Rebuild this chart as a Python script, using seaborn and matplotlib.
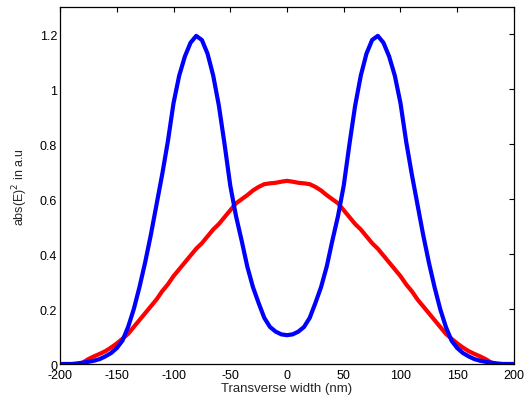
import numpy as np
import pandas as pd
import matplotlib
matplotlib.use("Agg")
import matplotlib.pyplot as plt
import seaborn as sns

x_nm = list(range(-200, 205, 5))

blue_left = [0, 0, 0, 0.002, 0.005, 0.008, 0.012, 0.018, 0.028, 0.040,
             0.058, 0.085, 0.135, 0.20, 0.28, 0.37, 0.47, 0.58, 0.69, 0.81,
             0.95, 1.05, 1.12, 1.17, 1.195, 1.18, 1.13, 1.05, 0.94, 0.80,
             0.65, 0.54, 0.45, 0.355, 0.28, 0.222, 0.168, 0.135, 0.118, 0.108]
blue_mid = [0.105]
blue_right = [0.108, 0.118, 0.135, 0.168, 0.222, 0.28, 0.355, 0.45, 0.54, 0.65,
              0.80, 0.94, 1.05, 1.13, 1.18, 1.195, 1.17, 1.12, 1.05, 0.95,
              0.81, 0.69, 0.58, 0.47, 0.37, 0.28, 0.20, 0.135, 0.085, 0.058,
              0.040, 0.028, 0.018, 0.012, 0.008, 0.005, 0.002, 0, 0, 0]
intensity_blue = blue_left + blue_mid + blue_right

red_left = [0, 0, 0, 0, 0.005, 0.018, 0.028, 0.037, 0.047, 0.060,
            0.075, 0.092, 0.11, 0.135, 0.16, 0.185, 0.21, 0.235, 0.265, 0.29,
            0.32, 0.345, 0.37, 0.395, 0.42, 0.44, 0.465, 0.49, 0.51, 0.535,
            0.56, 0.585, 0.60, 0.615, 0.632, 0.645, 0.655, 0.658, 0.660, 0.664]
red_mid = [0.667]
red_right = [0.664, 0.660, 0.658, 0.655, 0.645, 0.632, 0.615, 0.60, 0.585, 0.56,
             0.535, 0.51, 0.49, 0.465, 0.44, 0.42, 0.395, 0.37, 0.345, 0.32,
             0.29, 0.265, 0.235, 0.21, 0.185, 0.16, 0.135, 0.11, 0.092, 0.075,
             0.060, 0.047, 0.037, 0.028, 0.018, 0.005, 0, 0, 0, 0]
intensity_red = red_left + red_mid + red_right

x_ticks = [-200, -150, -100, -50, 0, 50, 100, 150, 200]
y_ticks = [0, 0.2, 0.4, 0.6, 0.8, 1.0, 1.2]
y_tick_labels = ["0", "0.2", "0.4", "0.6", "0.8", "1", "1.2"]

sns.set_style("white")
plt.rcParams["font.family"] = ["Liberation Sans", "DejaVu Sans"]

df_red = pd.DataFrame({"x": x_nm, "y": intensity_red})
df_blue = pd.DataFrame({"x": x_nm, "y": intensity_blue})

fig = plt.figure(figsize=(5.27, 4.02), dpi=100)
ax = fig.add_axes([0.1139, 0.092, 0.8614, 0.888])

sns.lineplot(data=df_red, x="x", y="y", color="#ff0000", linewidth=3, ax=ax)
sns.lineplot(data=df_blue, x="x", y="y", color="#0000ff", linewidth=3, ax=ax)

ax.set_xlim(-200, 200)
ax.set_ylim(0, 1.3)
ax.set_xticks(x_ticks)
ax.set_xticklabels([str(t) for t in x_ticks])
ax.set_yticks(y_ticks)
ax.set_yticklabels(y_tick_labels)
ax.tick_params(direction="in", length=3.5, width=0.8, labelsize=9,
               top=True, right=True, colors="black", pad=2)
ax.tick_params(axis="x", pad=3.5)
for s in ax.spines.values():
    s.set_visible(True)
    s.set_color("black")
    s.set_linewidth(0.9)
ax.set_xlabel("Transverse width (nm)", fontsize=9.5, labelpad=1)
ax.set_ylabel("abs(E)$^2$ in a.u", fontsize=9, labelpad=7)

fig.savefig("out.png", dpi=100)
